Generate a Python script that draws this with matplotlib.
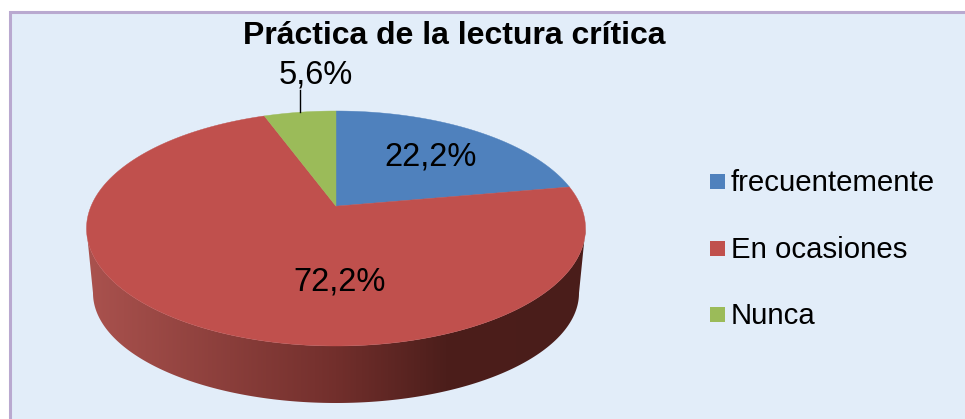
import numpy as np
import matplotlib
matplotlib.use('Agg')
import matplotlib.pyplot as plt
from matplotlib.patches import Polygon, Rectangle
from matplotlib.colors import LinearSegmentedColormap

# data
categorias = ['frecuentemente', 'En ocasiones', 'Nunca']
valores = [22.2, 72.2, 5.6]
etiquetas = ['22,2%', '72,2%', '5,6%']
colores = ['#4f81bd', '#c0504d', '#9bbb59']
titulo = 'Práctica de la lectura crítica'

W, H = 965, 419
plt.rcParams['font.family'] = ['Liberation Sans', 'DejaVu Sans']

fig = plt.figure(figsize=(W / 100, H / 100), dpi=100, facecolor='white')
ax = fig.add_axes([0, 0, 1, 1])
ax.axis('off')

# chart area, the frame runs off the right and bottom edges
ax.add_patch(Rectangle((9.5, 12), W, H, fc='#e2edf9', ec='#b9a9d0', lw=2.2, zorder=0))

# pie geometry in pixels
cx, cy, a, b = 336, 228.5, 249.5, 117.5
k = 0.19   # perspective shift of the apex
cx2, cy2, a2, b2 = 336, 293, 243, 110


def proyecta(theta):
    # circle -> ellipse seen in perspective, theta clockwise from the top
    px = np.sin(theta)
    py = np.cos(theta)
    d = 1 + k * py
    return cx + a * px * np.sqrt(1 - k ** 2) / d, cy - b * (py + k) / d


# side wall with gradient
t = np.linspace(0, np.pi, 200)
pared = np.column_stack([
    np.r_[cx - a, cx2 - a2 * np.cos(t), cx + a, cx + a * np.cos(t)],
    np.r_[cy, cy2 + b2 * np.sin(t), cy, cy + b * np.sin(t)],
])
cmap = LinearSegmentedColormap.from_list('pared', [(0, '#aa524e'), (0.5, '#722f2c'), (0.72, '#4c1e1b'), (1, '#4a1d1a')])
img = ax.imshow(np.linspace(0, 1, 256)[None, :], cmap=cmap, aspect='auto',
                extent=(cx - a, cx + a, cy2 + b2 + 2, cy), zorder=1)
clip = Polygon(pared, closed=True, transform=ax.transData, fc='none', ec='none')
ax.add_patch(clip)
img.set_clip_path(clip)
ax.set_xlim(0, W)
ax.set_ylim(H, 0)

# top face
bordes = np.r_[0, np.cumsum(valores)] / np.sum(valores) * 2 * np.pi
apice = (cx, cy - b * k)
for i, color in enumerate(colores):
    th = np.linspace(bordes[i], bordes[i + 1], 200)
    x, y = proyecta(th)
    pts = np.vstack([apice, np.column_stack([x, y])])
    ax.add_patch(Polygon(pts, closed=True, fc=color, ec=color, lw=0.3, zorder=2))

# labels
ax.text(430.5, 157, etiquetas[0], fontsize=23.5, ha='center', va='center', zorder=3)
ax.text(340, 282, etiquetas[1], fontsize=23.5, ha='center', va='center', zorder=3)
ax.text(316, 75, etiquetas[2], fontsize=23.5, ha='center', va='center', zorder=3)
ax.plot([300, 300], [90, 112], color='black', lw=1, zorder=3)

ax.text(454, 36.5, titulo, fontsize=23, fontweight='bold', ha='center', va='center', zorder=3)

# legend
for cat, color, yy in zip(categorias, colores, [181.5, 248, 314.5]):
    ax.add_patch(Rectangle((710, yy - 7.5), 15, 15, fc=color, ec='none', zorder=3))
    ax.text(731, yy + 1.5, cat, fontsize=21.2, ha='left', va='center', zorder=3)

fig.savefig('out.png', dpi=100)
